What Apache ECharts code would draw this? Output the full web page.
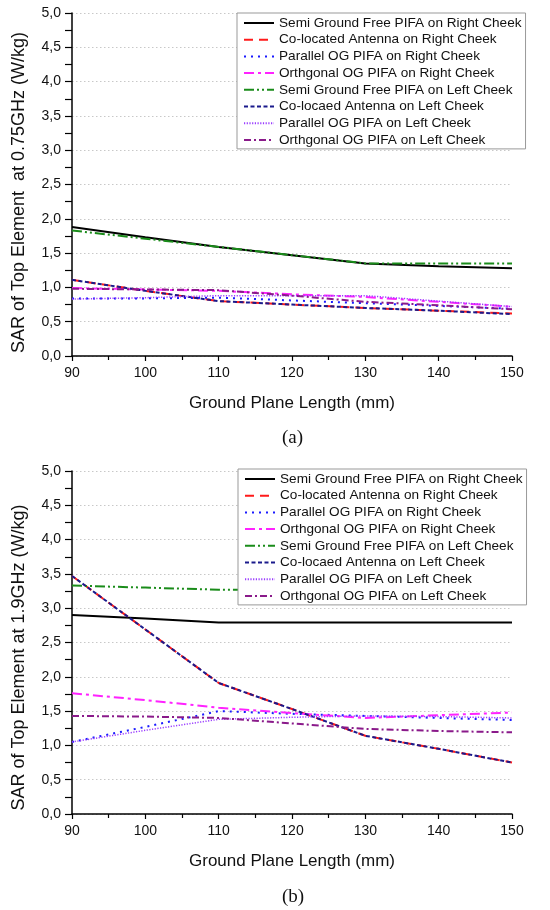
<!DOCTYPE html>
<html>
<head>
<meta charset="utf-8">
<script src="https://cdn.jsdelivr.net/npm/echarts@6/dist/echarts.min.js"></script>
<style>
html,body{margin:0;padding:0;background:#fff;}
#c{width:550px;height:910px;}
</style>
</head>
<body>
<div id="c"></div>
<script>
// ---- data ----
var xValues = [90, 100, 110, 120, 130, 140, 150];
var seriesNames = [
  'Semi Ground Free PIFA on Right Cheek',
  'Co-located Antenna on Right Cheek',
  'Parallel OG PIFA on Right Cheek',
  'Orthgonal OG PIFA on Right Cheek',
  'Semi Ground Free PIFA on Left Cheek',
  'Co-locaed Antenna on Left Cheek',
  'Parallel OG PIFA on Left Cheek',
  'Orthgonal OG PIFA on Left Cheek'
];
// (a) 0.75 GHz
var a_sgfRight   = [1.88, 1.73, 1.59, 1.47, 1.35, 1.31, 1.28];
var a_colRight   = [1.11, 0.95, 0.80, 0.75, 0.70, 0.66, 0.62];
var a_parRight   = [0.84, 0.84, 0.85, 0.81, 0.77, 0.73, 0.69];
var a_ortRight   = [0.99, 0.97, 0.95, 0.90, 0.86, 0.79, 0.72];
var a_sgfLeft    = [1.83, 1.71, 1.59, 1.47, 1.35, 1.35, 1.35];
var a_colLeft    = [1.11, 0.95, 0.80, 0.75, 0.70, 0.66, 0.61];
var a_parLeft    = [0.83, 0.85, 0.88, 0.88, 0.88, 0.80, 0.72];
var a_ortLeft    = [0.98, 0.97, 0.96, 0.88, 0.79, 0.74, 0.68];
// (b) 1.9 GHz
var b_sgfRight   = [2.90, 2.85, 2.79, 2.79, 2.79, 2.79, 2.79];
var b_colRight   = [3.47, 2.69, 1.91, 1.53, 1.14, 0.95, 0.75];
var b_parRight   = [1.05, 1.27, 1.50, 1.46, 1.43, 1.40, 1.37];
var b_ortRight   = [1.76, 1.66, 1.55, 1.47, 1.40, 1.44, 1.48];
var b_sgfLeft    = [3.33, 3.30, 3.27, 3.27, 3.27, 3.27, 3.27];
var b_colLeft    = [3.47, 2.69, 1.91, 1.53, 1.14, 0.95, 0.75];
var b_parLeft    = [1.05, 1.22, 1.38, 1.41, 1.43, 1.42, 1.40];
var b_ortLeft    = [1.43, 1.42, 1.40, 1.32, 1.24, 1.21, 1.19];
var yTicksMin = 0, yTicksMax = 5, yTickStep = 0.5;

// ---- styles ----
var styles = [
  {color:'#000000', width:2,   type:'solid'},
  {color:'#ff1a1a', width:2,   type:[9,6]},
  {color:'#1a1aff', width:2,   type:[2,5]},
  {color:'#ff22ff', width:2,   type:[10,4,3,4]},
  {color:'#1a8c1a', width:2,   type:[10,3,2,3,2,3]},
  {color:'#1a1a8c', width:2,   type:[4,2.5]},
  {color:'#9a3cff', width:1.5, type:[1.2,1.5]},
  {color:'#8a1a8a', width:2,   type:[7,3,2,3]}
];
var aSets = [a_sgfRight,a_colRight,a_parRight,a_ortRight,a_sgfLeft,a_colLeft,a_parLeft,a_ortLeft];
var bSets = [b_sgfRight,b_colRight,b_parRight,b_ortRight,b_sgfLeft,b_colLeft,b_parLeft,b_ortLeft];

function zip(vals){ return xValues.map(function(x,i){ return [x, vals[i]]; }); }

var series = [];
[aSets, bSets].forEach(function(sets, gi){
  sets.forEach(function(vals, i){
    series.push({
      type:'line', name: seriesNames[i], xAxisIndex: gi, yAxisIndex: gi,
      data: zip(vals), symbol:'none', silent:true, animation:false,
      lineStyle:{color:styles[i].color, width:styles[i].width, type:styles[i].type},
      itemStyle:{color:styles[i].color}
    });
  });
});

var fontSans = 'Liberation Sans, Arial, sans-serif';
function xAxis(gi){
  return {
    type:'value', gridIndex:gi, min:90, max:150, interval:10,
    name:'Ground Plane Length (mm)', nameLocation:'middle', nameGap:39,
    nameTextStyle:{fontFamily:fontSans, fontSize:17, color:'#111'},
    axisLine:{lineStyle:{color:'#000', width:1.5}},
    axisTick:{show:true, length:5, lineStyle:{color:'#000', width:1.2}},
    minorTick:{show:true, splitNumber:2, length:4, lineStyle:{color:'#000', width:1.2}},
    axisLabel:{fontFamily:fontSans, fontSize:14, color:'#111', margin:10},
    splitLine:{show:false}
  };
}
function yAxis(gi, title, shift){
  return {
    type:'value', gridIndex:gi, min:yTicksMin, max:yTicksMax, interval:yTickStep,
    name:title, nameLocation:'middle', nameGap:44, nameRotate:90,
    nameTextStyle:{fontFamily:fontSans, fontSize:18, color:'#111', padding:[0,shift,0,0]},
    axisLine:{show:true, lineStyle:{color:'#000', width:1.5}},
    axisTick:{show:true, length:7, lineStyle:{color:'#000', width:1.2}},
    minorTick:{show:true, splitNumber:2, length:7, lineStyle:{color:'#000', width:1.2}},
    axisLabel:{fontFamily:fontSans, fontSize:14, color:'#111', margin:11,
      formatter:function(v){ return v.toFixed(1).replace('.', ','); }},
    splitLine:{show:true, lineStyle:{color:'#c8c8c8', type:[1.5,2.5], width:1}}
  };
}
function legend(gi, left, top){
  return {
    show:true, orient:'vertical', left:left, top:top,
    data: seriesNames.slice(),
    itemWidth:30, itemHeight:14, itemGap:2.7,
    padding:[3,4,2,6],
    backgroundColor:'#fff', borderColor:'#999', borderWidth:1,
    itemStyle:{color:'rgba(0,0,0,0)', borderColor:'rgba(0,0,0,0)', borderWidth:0, opacity:0},
    textStyle:{fontFamily:fontSans, fontSize:13.6, color:'#111'},
    selectedMode:false
  };
}

var chart = echarts.init(document.getElementById('c'), null, {renderer:'canvas'});
chart.setOption({
  backgroundColor:'#ffffff',
  animation:false,
  grid:[
    {left:72, right:38, top:13, height:343, containLabel:false},
    {left:72, right:38, top:471, height:343, containLabel:false}
  ],
  xAxis:[xAxis(0), xAxis(1)],
  yAxis:[yAxis(0,'SAR of Top Element  at 0.75GHz (W/kg)', 16), yAxis(1,'SAR of Top Element at 1.9GHz (W/kg)', 30)],
  legend:[legend(0, 237, 13), legend(1, 238, 469)],
  series: series,
  graphic:[
    {type:'text', left:282, top:429, style:{text:'(a)', fontFamily:'Liberation Serif, Times New Roman, serif', fontSize:19, fill:'#111'}},
    {type:'text', left:282, top:888, style:{text:'(b)', fontFamily:'Liberation Serif, Times New Roman, serif', fontSize:19, fill:'#111'}}
  ]
});
</script>
</body>
</html>
